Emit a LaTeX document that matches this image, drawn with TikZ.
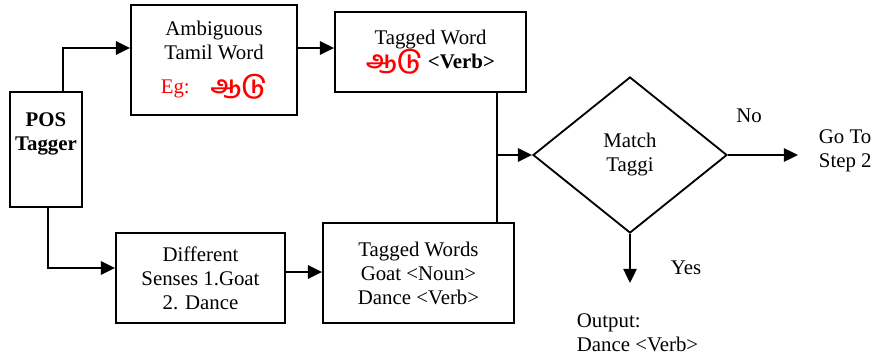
\documentclass[tikz,border=0pt]{standalone}
\usepackage{fontspec}
\setmainfont{Liberation Serif}
\newfontfamily\tamilfont[Script=Tamil,Scale=1.15]{Hind Madurai}
\usetikzlibrary{arrows.meta,shapes.geometric}

\newcommand{\aadu}{{\tamilfont\bfseries\color{red}ஆடு}}

\begin{document}
\begin{tikzpicture}[
    x=0.6pt, y=-0.6pt,
    font=\fontsize{12.5}{14.4}\selectfont,
    line width=1.1pt,
    box/.style = {draw, align=center, inner sep=2pt},
    arrow/.style = {-{Triangle[length=8.5pt, width=8pt]}}
    ]
    \useasboundingbox (0,0) rectangle (876,358);

    % Boxes
    \node[box, minimum width=43.2pt, minimum height=69pt,
          label={[anchor=north, yshift=-9pt, align=center, font=\fontsize{12.5}{14.4}\selectfont\bfseries]north:POS\\Tagger}]
          (pos) at (46,149.5) {};
    \node[box, minimum width=99.6pt, minimum height=66pt] (amb) at (214,60)
        {Ambiguous\\Tamil Word\\[6pt]\textcolor{red}{Eg:\quad\aadu}};
    \node[box, minimum width=114.6pt, minimum height=48pt] (tw) at (430.5,52)
        {Tagged Word\\\aadu\ \textbf{<Verb>}};
    \node[box, minimum width=101.4pt, minimum height=54pt] (diff) at (200.5,278)
        {Different\\Senses 1.Goat\\2. Dance};
    \node[box, minimum width=114.6pt, minimum height=60pt] (tws) at (418.5,273)
        {Tagged Words\\Goat <Noun>\\Dance <Verb>};

    % Decision
    \node[draw, shape=diamond, minimum width=116.4pt, minimum height=93.6pt,
          inner sep=0pt, align=center] (match) at (630,155) {Match\\Taggi};

    % Free texts
    \node[anchor=west, inner sep=0pt, align=left] (goto) at (818,151) {Go To\\Step 2};
    \node[anchor=north west, inner sep=0pt, align=left] (out) at (576,313) {Output:\\Dance <Verb>};
    \node (no)  at (749,116) {No};
    \node (yes) at (686,268) {Yes};

    % Connectors
    \draw[arrow] ([xshift=10.2pt]pos.north) |- ([yshift=7.2pt]amb.west);
    \draw[arrow] ([xshift=1.2pt]pos.south) |- ([yshift=6pt]diff.west);
    \path [arrow] ([yshift=7.2pt]amb.east) edge ([yshift=2.4pt]tw.west);
    \path [arrow] ([yshift=3.6pt]diff.east) edge ([yshift=0.6pt]tws.west);

    \coordinate (twfoot) at ([xshift=39.9pt]tw.south);
    \draw (twfoot) -- ([xshift=47.1pt]tws.north);
    \draw[arrow] (twfoot |- match.west) -- (match.west);

    \draw[arrow, shorten >=12pt] (match.east) -- (match.east -| goto.west);
    \draw[arrow, shorten >=18pt] (match.south) -- (match.south |- out.north);
\end{tikzpicture}
\end{document}
